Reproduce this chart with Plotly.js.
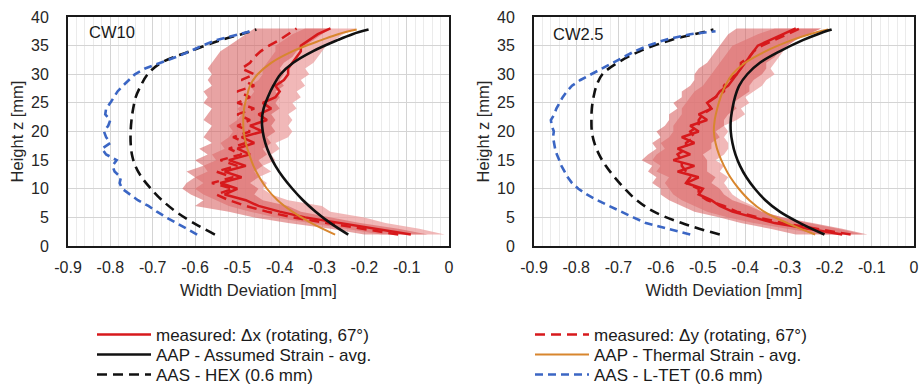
<!DOCTYPE html>
<html><head><meta charset="utf-8">
<script src="https://cdn.plot.ly/plotly-3.0.1.min.js"></script>
<style>html,body{margin:0;padding:0;background:#fff}#chart{width:921px;height:388px}</style>
</head><body><div id="chart"></div>
<script>
// ---------- data ----------
const zMeas = [2,3,4,5,6,7,8,9,10,11,12,13,14,15,16,17,18,19,20,21,22,23,24,25,26,27,28,29,30,31,32,33,34,35,36,37,38];
const zModel = [2,4,6,8,10,12,14,16,18,20,22,24,26,28,30,32,34,36,37,37.8];
const zLtet10 = [2,3,4,5,6,7,8,9,10,11,12,13,14,15,16,17,18,19,20,21,22,23,24,25,26,27,28,29,30,31,32,33,34,35,36,37,37.7];
const zLtet25 = [2,3,4,5,6,7,8,9,10,11,12,13,14,15,16,17,18,19,20,21,22,23,24,25,26,27,28,29,30,31,32,33,34,35,36,37,37.5];
const xTickVals = [-0.9,-0.8,-0.7,-0.6,-0.5,-0.4,-0.3,-0.2,-0.1,0];
const xTickText = ["-0.9","-0.8","-0.7","-0.6","-0.5","-0.4","-0.3","-0.2","-0.1","0"];
const panelLabels = ["CW10","CW2.5"];
const seriesNames = ["measured: \u0394x (rotating, 67\u00b0)","measured: \u0394y (rotating, 67\u00b0)","AAP - Assumed Strain - avg.","AAP - Thermal Strain - avg.","AAS - HEX (0.6 mm)","AAS - L-TET (0.6 mm)"];

// CW10 (left)
const cw10_dx   = [-0.09,-0.17,-0.26,-0.34,-0.40,-0.45,-0.48,-0.53,-0.50,-0.54,-0.49,-0.53,-0.48,-0.52,-0.47,-0.50,-0.46,-0.49,-0.44,-0.47,-0.43,-0.45,-0.42,-0.44,-0.41,-0.40,-0.41,-0.39,-0.38,-0.38,-0.37,-0.36,-0.35,-0.35,-0.33,-0.31,-0.28];
const cw10_dxLo = [-0.16,-0.24,-0.33,-0.41,-0.47,-0.52,-0.55,-0.58,-0.60,-0.58,-0.60,-0.57,-0.58,-0.55,-0.56,-0.53,-0.54,-0.52,-0.51,-0.52,-0.50,-0.49,-0.50,-0.48,-0.47,-0.46,-0.47,-0.45,-0.44,-0.44,-0.43,-0.42,-0.41,-0.41,-0.39,-0.37,-0.34];
const cw10_dxHi = [-0.01,-0.07,-0.15,-0.20,-0.28,-0.30,-0.38,-0.42,-0.44,-0.43,-0.45,-0.42,-0.44,-0.41,-0.42,-0.40,-0.41,-0.38,-0.37,-0.38,-0.37,-0.38,-0.36,-0.37,-0.35,-0.36,-0.34,-0.35,-0.33,-0.34,-0.32,-0.31,-0.30,-0.29,-0.27,-0.25,-0.22];
const cw10_dy   = [-0.12,-0.20,-0.29,-0.37,-0.43,-0.48,-0.52,-0.55,-0.51,-0.56,-0.51,-0.55,-0.50,-0.54,-0.49,-0.52,-0.48,-0.51,-0.47,-0.50,-0.47,-0.50,-0.46,-0.50,-0.47,-0.50,-0.46,-0.49,-0.46,-0.49,-0.47,-0.46,-0.445,-0.425,-0.40,-0.38,-0.36];
const cw10_dyLo = [-0.20,-0.28,-0.38,-0.46,-0.52,-0.60,-0.58,-0.61,-0.63,-0.62,-0.60,-0.62,-0.58,-0.60,-0.57,-0.59,-0.56,-0.58,-0.57,-0.56,-0.58,-0.57,-0.56,-0.58,-0.57,-0.58,-0.56,-0.57,-0.56,-0.57,-0.56,-0.55,-0.54,-0.52,-0.50,-0.48,-0.46];
const cw10_dyHi = [-0.05,-0.12,-0.21,-0.28,-0.35,-0.38,-0.44,-0.46,-0.45,-0.47,-0.45,-0.46,-0.44,-0.45,-0.43,-0.44,-0.42,-0.43,-0.41,-0.42,-0.41,-0.42,-0.40,-0.41,-0.40,-0.41,-0.39,-0.40,-0.39,-0.40,-0.39,-0.37,-0.36,-0.34,-0.32,-0.30,-0.28];
const cw10_assumed = [-0.238,-0.28,-0.315,-0.345,-0.37,-0.392,-0.41,-0.424,-0.434,-0.44,-0.442,-0.438,-0.428,-0.415,-0.398,-0.368,-0.322,-0.262,-0.228,-0.19];
const cw10_thermal = [-0.269,-0.325,-0.37,-0.405,-0.43,-0.448,-0.462,-0.472,-0.48,-0.485,-0.486,-0.484,-0.478,-0.47,-0.452,-0.42,-0.37,-0.3,-0.262,-0.218];
const cw10_hex = [-0.553,-0.603,-0.645,-0.678,-0.704,-0.726,-0.741,-0.749,-0.752,-0.752,-0.75,-0.746,-0.74,-0.728,-0.712,-0.68,-0.612,-0.538,-0.49,-0.455];
const cw10_ltet = [-0.595,-0.62,-0.645,-0.668,-0.69,-0.71,-0.735,-0.755,-0.772,-0.778,-0.775,-0.79,-0.795,-0.785,-0.81,-0.82,-0.8,-0.81,-0.815,-0.805,-0.8,-0.812,-0.81,-0.8,-0.792,-0.783,-0.77,-0.757,-0.742,-0.718,-0.68,-0.645,-0.612,-0.583,-0.548,-0.5,-0.46];

// CW2.5 (right)
const cw25_dx   = [-0.17,-0.25,-0.33,-0.38,-0.43,-0.46,-0.48,-0.51,-0.50,-0.54,-0.51,-0.56,-0.52,-0.57,-0.53,-0.56,-0.52,-0.55,-0.51,-0.53,-0.49,-0.51,-0.48,-0.49,-0.47,-0.46,-0.44,-0.43,-0.42,-0.41,-0.40,-0.39,-0.38,-0.37,-0.34,-0.31,-0.28];
const cw25_dxLo = [-0.22,-0.30,-0.38,-0.44,-0.49,-0.52,-0.55,-0.57,-0.58,-0.59,-0.58,-0.61,-0.60,-0.62,-0.61,-0.59,-0.60,-0.58,-0.57,-0.57,-0.56,-0.55,-0.55,-0.54,-0.53,-0.52,-0.50,-0.49,-0.48,-0.47,-0.46,-0.45,-0.44,-0.43,-0.40,-0.37,-0.33];
const cw25_dxHi = [-0.12,-0.18,-0.25,-0.31,-0.36,-0.38,-0.41,-0.43,-0.44,-0.45,-0.44,-0.46,-0.45,-0.47,-0.45,-0.44,-0.44,-0.45,-0.44,-0.45,-0.42,-0.40,-0.41,-0.39,-0.40,-0.38,-0.36,-0.35,-0.33,-0.34,-0.33,-0.32,-0.31,-0.30,-0.28,-0.25,-0.22];
const cw25_dy   = [-0.15,-0.23,-0.31,-0.37,-0.42,-0.45,-0.49,-0.51,-0.51,-0.54,-0.53,-0.54,-0.55,-0.55,-0.56,-0.54,-0.54,-0.52,-0.53,-0.51,-0.51,-0.50,-0.48,-0.49,-0.47,-0.45,-0.45,-0.44,-0.42,-0.41,-0.41,-0.39,-0.38,-0.36,-0.33,-0.30,-0.27];
const cw25_dyLo = [-0.28,-0.34,-0.41,-0.46,-0.52,-0.55,-0.58,-0.60,-0.60,-0.62,-0.61,-0.63,-0.62,-0.645,-0.63,-0.61,-0.62,-0.60,-0.61,-0.59,-0.58,-0.58,-0.56,-0.57,-0.55,-0.55,-0.53,-0.52,-0.52,-0.51,-0.49,-0.48,-0.47,-0.46,-0.45,-0.44,-0.42];
const cw25_dyHi = [-0.11,-0.17,-0.24,-0.31,-0.36,-0.39,-0.43,-0.45,-0.46,-0.48,-0.47,-0.49,-0.49,-0.49,-0.50,-0.48,-0.48,-0.46,-0.47,-0.45,-0.45,-0.44,-0.42,-0.43,-0.41,-0.39,-0.39,-0.38,-0.36,-0.35,-0.35,-0.33,-0.32,-0.30,-0.28,-0.25,-0.22];
const cw25_assumed = [-0.212,-0.27,-0.318,-0.352,-0.377,-0.397,-0.412,-0.423,-0.43,-0.434,-0.434,-0.43,-0.424,-0.414,-0.395,-0.365,-0.318,-0.262,-0.228,-0.195];
const cw25_thermal = [-0.234,-0.3,-0.355,-0.39,-0.415,-0.435,-0.45,-0.462,-0.47,-0.474,-0.472,-0.466,-0.458,-0.447,-0.43,-0.4,-0.352,-0.288,-0.247,-0.203];
const cw25_hex = [-0.46,-0.55,-0.616,-0.657,-0.685,-0.709,-0.73,-0.746,-0.757,-0.763,-0.764,-0.763,-0.759,-0.752,-0.738,-0.702,-0.65,-0.575,-0.52,-0.475];
const cw25_ltet = [-0.53,-0.585,-0.635,-0.665,-0.695,-0.722,-0.75,-0.775,-0.795,-0.81,-0.82,-0.828,-0.835,-0.84,-0.846,-0.85,-0.852,-0.855,-0.853,-0.858,-0.86,-0.852,-0.847,-0.84,-0.832,-0.822,-0.81,-0.79,-0.765,-0.74,-0.715,-0.69,-0.662,-0.63,-0.59,-0.53,-0.47];

// ---------- styling ----------
const W = 921, H = 388;
const M = {l:68, r:7, t:17, b:142, autoexpand: false};
const PW = W - M.l - M.r, PH = H - M.t - M.b;
const px2x = p => (p - M.l) / PW;
const px2y = p => (H - M.b - p) / PH;
const FONT = "Liberation Sans, Arial, sans-serif";
const RED = "#d7191c", ORANGE = "#d8862e", BLUE = "#3b66c4", BLACK = "#111111";
const BAND_X = "rgba(236,160,160,0.75)";
const BAND_Y = "rgba(214,88,88,0.55)";

const traces = [];
function panel(ax, d, showLeg) {
  const xa = ax === 1 ? "x" : "x2", ya = ax === 1 ? "y" : "y2";
  const base = {xaxis: xa, yaxis: ya, type: "scatter", mode: "lines", hoverinfo: "skip"};
  traces.push(Object.assign({}, base, {x: d.dxLo, y: zMeas, line: {width: 0}, showlegend: false}));
  traces.push(Object.assign({}, base, {x: d.dxHi, y: zMeas, line: {width: 0}, fill: "tonextx", fillcolor: BAND_X, showlegend: false}));
  traces.push(Object.assign({}, base, {x: d.dyLo, y: zMeas, line: {width: 0}, showlegend: false}));
  traces.push(Object.assign({}, base, {x: d.dyHi, y: zMeas, line: {width: 0}, fill: "tonextx", fillcolor: BAND_Y, showlegend: false}));
  traces.push(Object.assign({}, base, {name: seriesNames[0], x: d.dx, y: zMeas, line: {color: RED, width: 2.5}, showlegend: showLeg, legend: "legend"}));
  traces.push(Object.assign({}, base, {name: seriesNames[1], x: d.dy, y: zMeas, line: {color: RED, width: 2.5, dash: "10px,6px"}, showlegend: showLeg, legend: "legend4"}));
  traces.push(Object.assign({}, base, {name: seriesNames[3], x: d.thermal, y: zModel, line: {color: ORANGE, width: 2, shape: "spline"}, showlegend: showLeg, legend: "legend5"}));
  traces.push(Object.assign({}, base, {name: seriesNames[2], x: d.assumed, y: zModel, line: {color: BLACK, width: 2.6, shape: "spline"}, showlegend: showLeg, legend: "legend2"}));
  traces.push(Object.assign({}, base, {name: seriesNames[4], x: d.hex, y: zModel, line: {color: BLACK, width: 2.6, dash: "10px,6px", shape: "spline"}, showlegend: showLeg, legend: "legend3"}));
  traces.push(Object.assign({}, base, {name: seriesNames[5], x: d.ltet, y: d.zl, line: {color: BLUE, width: 2.6, dash: "8px,5px"}, showlegend: showLeg, legend: "legend6"}));
}
panel(1, {dx: cw10_dx, dxLo: cw10_dxLo, dxHi: cw10_dxHi, dy: cw10_dy, dyLo: cw10_dyLo, dyHi: cw10_dyHi,
          assumed: cw10_assumed, thermal: cw10_thermal, hex: cw10_hex, ltet: cw10_ltet, zl: zLtet10}, true);
panel(2, {dx: cw25_dx, dxLo: cw25_dxLo, dxHi: cw25_dxHi, dy: cw25_dy, dyLo: cw25_dyLo, dyHi: cw25_dyHi,
          assumed: cw25_assumed, thermal: cw25_thermal, hex: cw25_hex, ltet: cw25_ltet, zl: zLtet25}, false);

function xAxis(dom, anchor) {
  return {domain: dom, anchor: anchor, range: [-0.9, 0], tickvals: xTickVals, ticktext: xTickText,
    showline: true, mirror: true, linecolor: "#1a1a1a", linewidth: 2, zeroline: false,
    showgrid: true, gridcolor: "#d4d4d4", gridwidth: 1,
    minor: {dtick: 0.02, showgrid: true, gridcolor: "#ebebeb", gridwidth: 1},
    ticks: "", ticklabelstandoff: 6, automargin: false,
    tickfont: {family: FONT, size: 16, color: "#262626"},
    title: {text: "Width Deviation [mm]", font: {family: FONT, size: 16.5, color: "#262626"}, standoff: 9}};
}
function yAxis(anchor) {
  return {domain: [0, 1], anchor: anchor, range: [0, 40], dtick: 5,
    showline: true, mirror: true, linecolor: "#1a1a1a", linewidth: 2, zeroline: false,
    showgrid: true, gridcolor: "#d4d4d4", gridwidth: 1,
    ticks: "", ticklabelstandoff: 14, automargin: false,
    tickfont: {family: FONT, size: 16, color: "#262626"},
    title: {text: "Height z [mm]", font: {family: FONT, size: 16.5, color: "#262626"}, standoff: 3}};
}
const legFont = {family: FONT, size: 17, color: "#1a1a1a"};
function leg(xpx, ypx) {
  return {x: px2x(xpx), y: px2y(ypx), xanchor: "left", yanchor: "middle", orientation: "v",
    bgcolor: "rgba(0,0,0,0)", borderwidth: 0, font: legFont, itemwidth: 54, itemclick: false, itemdoubleclick: false};
}
const rowY = [335, 355, 375];
const layout = {
  width: W, height: H, margin: M, paper_bgcolor: "#fff", plot_bgcolor: "#fff",
  font: {family: FONT},
  xaxis: xAxis([0, px2x(449)], "y"),
  yaxis: yAxis("x"),
  xaxis2: xAxis([px2x(534), px2x(914)], "y2"),
  yaxis2: yAxis("x2"),
  legend: leg(92, rowY[0]), legend2: leg(92, rowY[1]), legend3: leg(92, rowY[2]),
  legend4: leg(530, rowY[0]), legend5: leg(530, rowY[1]), legend6: leg(530, rowY[2]),
  annotations: [
    {xref: "x domain", yref: "y domain", x: (87 - 68) / 381, y: px2y(32), xanchor: "left", yanchor: "middle", showarrow: false,
     text: panelLabels[0], font: {family: FONT, size: 16.5, color: "#1a1a1a"}},
    {xref: "x2 domain", yref: "y2 domain", x: (551 - 534) / 380, y: px2y(34), xanchor: "left", yanchor: "middle", showarrow: false,
     text: panelLabels[1], font: {family: FONT, size: 16.5, color: "#1a1a1a"}}
  ],
  showlegend: true
};
Plotly.newPlot("chart", traces, layout, {staticPlot: true, displayModeBar: false});
</script>
</body></html>
